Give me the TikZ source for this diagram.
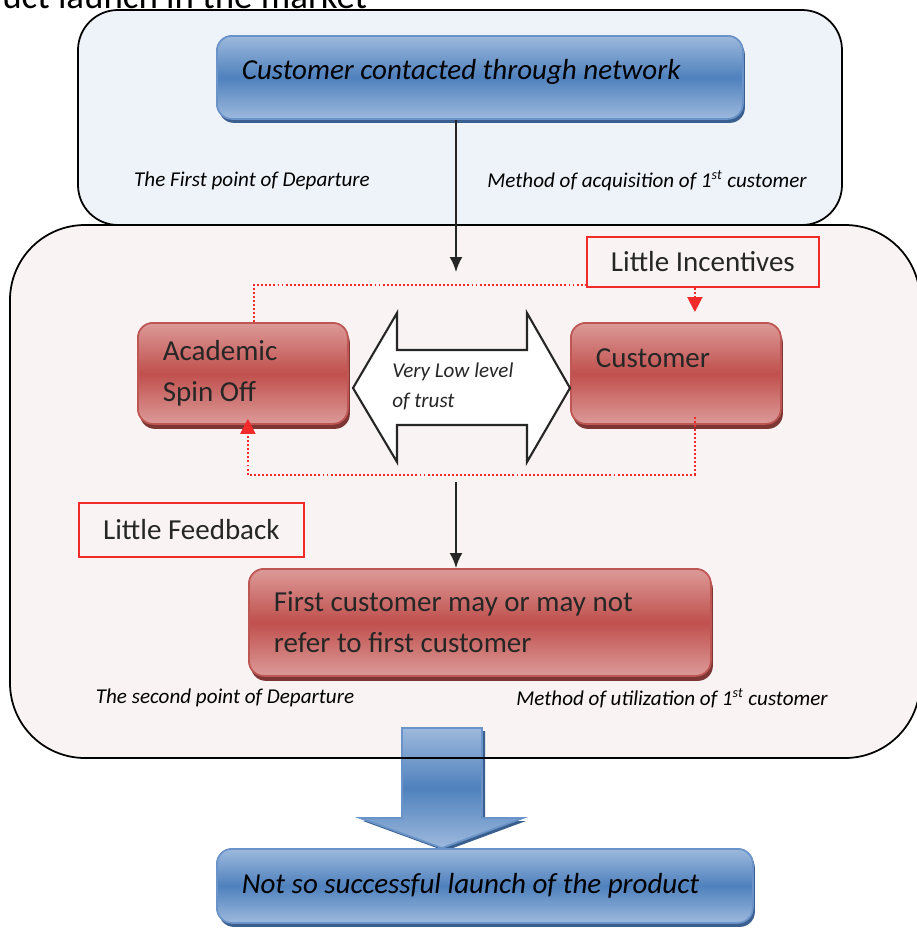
\documentclass[tikz,border=0pt]{standalone}
\usepackage{fontspec}
\setmainfont{Carlito}
\usetikzlibrary{arrows.meta,shadows}
\definecolor{bluebg}{HTML}{EEF3FA}
\definecolor{pinkbg}{HTML}{F9F3F3}
\definecolor{bluelt}{HTML}{9DB9DD}
\definecolor{bluemid}{HTML}{4F81BD}
\definecolor{blueedge}{HTML}{6A93C9}
\definecolor{blueshade}{HTML}{3A5F8E}
\definecolor{redlt}{HTML}{DC9A98}
\definecolor{redmid}{HTML}{C0504D}
\definecolor{rededge}{HTML}{BE5653}
\definecolor{redshade}{HTML}{7E3634}
\definecolor{notered}{HTML}{F22A2A}
\definecolor{textgray}{HTML}{262626}
\begin{document}
\begin{tikzpicture}[
  bigfont/.style={font=\fontsize{16.5}{23.5}\selectfont},
  tag/.style={font=\fontsize{12}{17}\selectfont\itshape,text=black,inner sep=0pt},
  bluebox/.style={draw=blueedge,line width=1pt,rounded corners=0.3cm,top color=bluelt,bottom color=bluelt,middle color=bluemid,
    drop shadow={shadow xshift=0.04cm,shadow yshift=-0.08cm,fill=blueshade,opacity=1},
    anchor=north west,inner xsep=0.5cm,align=flush left,font=\fontsize{16.5}{23.5}\selectfont\itshape,text=black},
  redbox/.style={draw=rededge,line width=1pt,rounded corners=0.3cm,top color=redlt,bottom color=redlt,middle color=redmid,
    drop shadow={shadow xshift=0.04cm,shadow yshift=-0.1cm,fill=redshade,opacity=1},
    anchor=north west,inner xsep=0.5cm,align=flush left,bigfont,text=textgray},
  notebox/.style={draw=notered,line width=1pt,fill=pinkbg,anchor=north west,inner sep=0pt,bigfont,text=textgray},
  arr/.style={-{Latex[length=0.3cm,width=0.26cm]},line width=1.2pt,textgray},
  loopline/.style={draw=notered,line width=1.1pt,dash pattern=on 1.1pt off 1.2pt,-{Triangle[length=0.3cm,width=0.3cm]}}
]
\useasboundingbox (0,0) rectangle (18.32,-18.58);
\node[anchor=base west,inner sep=0pt,font=\fontsize{21}{25}\selectfont,text=black] (title) at (0.04,-0.16) {uct launch in the market};

% outer frames
\draw[fill=bluebg,line width=1pt,rounded corners=0.8cm] (1.56,-0.2) rectangle (16.84,-4.5);
\fill[pinkbg,rounded corners=1.5cm] (0.2,-4.5) rectangle (18.4,-15.16);

% big arrow down
\fill[blueshade] (8.1,-14.62) -- (9.7,-14.62) -- (9.7,-16.42) -- (10.52,-16.42) -- (8.9,-17.02) -- (7.26,-16.42) -- (8.1,-16.42) -- cycle;
\draw[blueedge,line width=1pt,top color=bluelt,bottom color=bluelt,middle color=bluemid] (8.04,-14.56) -- (9.64,-14.56) -- (9.64,-16.36) -- (10.46,-16.36) -- (8.84,-16.96) -- (7.2,-16.36) -- (8.04,-16.36) -- cycle;
\draw[line width=1pt,rounded corners=1.5cm] (0.2,-4.5) rectangle (18.4,-15.16);

\node[bluebox,text width=9.52cm,minimum height=1.66cm,text depth=0.33cm] (contact) at (4.32,-0.7) {Customer contacted through network};
\node[tag] (first) at (5.04,-3.62) {The First point of Departure};
\node[tag] (acq) at (12.94,-3.62) {Method of acquisition of 1\textsuperscript{st} customer};
\coordinate (c1) at (9.12,-5.44);
\draw[arr] (contact.south -| c1) -- (c1);

\node[redbox,text width=3.2cm,minimum height=2.02cm] (spin) at (2.74,-6.44) {Academic\\Spin Off};
\node[redbox,text width=3.2cm,minimum height=2.02cm,text depth=0.6cm] (cust) at (11.4,-6.44) {Customer};

% trust arrow
\draw[line width=1.2pt,draw=textgray,fill=white] (7.06,-7.76) -- (7.94,-6.26) -- (7.94,-7.0) -- (10.54,-7.0) -- (10.54,-6.26) -- (11.4,-7.76)
  -- (10.54,-9.24) -- (10.54,-8.5) -- (7.94,-8.5) -- (7.94,-9.24) -- cycle;
\node[tag,anchor=west,align=flush left,text=textgray] (trust) at (7.84,-7.72) {Very Low level\\of trust};

\draw[loopline] ([xshift=0.22cm]spin.north) -- ++(0,0.74) -| ([xshift=0.38cm,yshift=0.2cm]cust.north);
\draw[loopline] ([xshift=0.38cm,yshift=0.16cm]cust.south) -- ++(0,-1.16) -| ([xshift=0.1cm,yshift=0.12cm]spin.south);
\node[notebox,minimum width=4.64cm,minimum height=1cm] (incent) at (11.72,-4.72) {Little Incentives};
\node[notebox,minimum width=4.5cm,minimum height=1.08cm] (feedback) at (1.56,-10.04) {Little Feedback};

\node[redbox,text width=8.24cm,minimum height=2.14cm] (firstc) at (4.96,-11.36) {First customer may or may not\\refer to first customer};
\coordinate (c2) at (9.12,-9.64);
\draw[arr] (c2) -- (firstc.north -| c2);
\node[tag] (second) at (4.5,-13.96) {The second point of Departure};
\node[tag] (util) at (13.44,-13.96) {Method of utilization of 1\textsuperscript{st} customer};

\node[bluebox,text width=9.72cm,minimum height=1.48cm] (launch) at (4.32,-16.96) {Not so successful launch of the product};
\end{tikzpicture}
\end{document}
